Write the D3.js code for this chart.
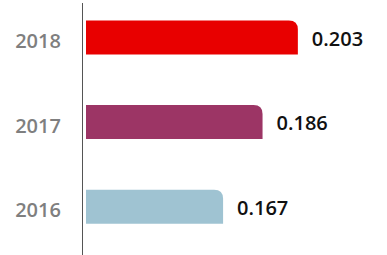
<!DOCTYPE html>
<html>
<head>
<meta charset="utf-8">
<script src="https://cdn.jsdelivr.net/npm/d3@7"></script>
<style>
html,body{margin:0;padding:0;background:#fff;}
svg{display:block;}
</style>
</head>
<body>
<svg id="chart" width="387" height="255"></svg>
<script>
const years = ["2018", "2017", "2016"];
const values = [0.203, 0.186, 0.167];
const valueLabels = ["0.203", "0.186", "0.167"];
const colors = ["#e80000", "#9c3565", "#9fc3d2"];

const svg = d3.select("#chart");
const x = d3.scaleLinear().domain([0.101, 0.21]).range([86, 312.4]);
const y = d3.scaleBand().domain(years).range([20.5, 223.7]).paddingInner(0.598).paddingOuter(0);

// axis line
svg.append("line")
  .attr("x1", 82.5).attr("x2", 82.5)
  .attr("y1", 3).attr("y2", 255)
  .attr("stroke", "#555").attr("stroke-width", 1);

const r = 9;
function barPath(x0, x1, y0, h) {
  const w = x1 - x0;
  const rr = Math.min(r, w, h);
  return `M${x0},${y0 + h}V${y0}H${x1 - rr}Q${x1},${y0} ${x1},${y0 + rr}V${y0 + h}Z`;
}

const data = years.map((yr, i) => ({yr, v: values[i], lab: valueLabels[i], c: colors[i]}));

svg.selectAll("path.bar").data(data).enter().append("path")
  .attr("class", "bar")
  .attr("d", d => barPath(x.range()[0], x(d.v), y(d.yr), y.bandwidth()))
  .attr("fill", d => d.c);

svg.selectAll("text.yr").data(data).enter().append("text")
  .attr("class", "yr")
  .attr("x", 38)
  .attr("y", d => y(d.yr) + y.bandwidth() / 2 + 10.5)
  .attr("text-anchor", "middle")
  .attr("font-family", "'Open Sans', sans-serif")
  .attr("font-weight", 600)
  .attr("font-size", 20)
  .attr("fill", "#7f7f7f")
  .text(d => d.yr);

svg.selectAll("text.val").data(data).enter().append("text")
  .attr("class", "val")
  .attr("x", d => x(d.v) + 14)
  .attr("y", d => y(d.yr) + y.bandwidth() / 2 + 8)
  .attr("font-family", "'Open Sans', sans-serif")
  .attr("font-weight", 600)
  .attr("font-size", 20)
  .attr("fill", "#111")
  .text(d => d.lab);
</script>
</body>
</html>
